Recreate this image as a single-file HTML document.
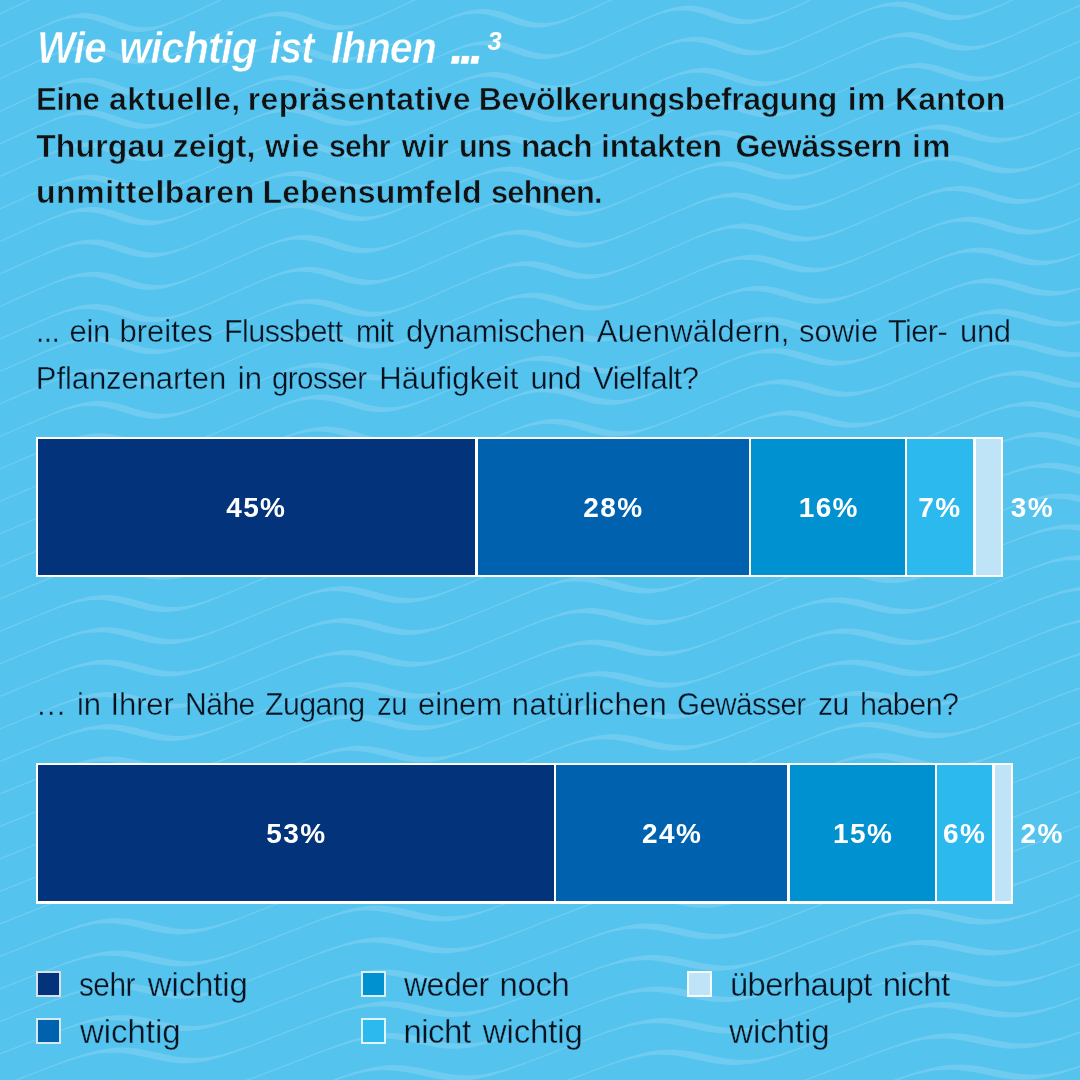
<!DOCTYPE html>
<html lang="de">
<head>
<meta charset="utf-8">
<title>Wie wichtig ist Ihnen ...</title>
<style>
html,body{margin:0;padding:0;}
body{width:1080px;height:1080px;overflow:hidden;background:#54c3ee;position:relative;
  font-family:"Liberation Sans",sans-serif;color:#141414;}
#bg{position:absolute;left:0;top:0;width:1080px;height:1080px;}
.ln{position:absolute;left:0;width:1080px;height:40px;line-height:40px;white-space:nowrap;margin:0;}
.ln span{position:absolute;top:0;transform-origin:0 50%;}
.title{font-size:44px;font-weight:bold;font-style:italic;color:#fff;-webkit-text-stroke:0.6px #54c3ee;}
.title sup{position:absolute;left:487.4px;top:0.3px;font-size:25.5px;line-height:24px;letter-spacing:0;-webkit-text-stroke:0;}
.lead{font-size:32px;font-weight:bold;color:#111;-webkit-text-stroke:0.6px #54c3ee;}
.q{font-size:31px;color:#08121f;-webkit-text-stroke:0.4px #54c3ee;}
.lg{font-size:33px;color:#08121f;-webkit-text-stroke:0.4px #54c3ee;}
.bar{position:absolute;background:#fff;}
.seg{position:absolute;top:2.3px;bottom:2.3px;}
.pc{position:absolute;width:100px;height:30px;line-height:30px;font-size:28px;font-weight:bold;color:#fff;text-align:center;white-space:nowrap;letter-spacing:1.4px;text-indent:1.4px;}
.sw{position:absolute;width:25px;height:26px;box-sizing:border-box;border:2px solid rgba(255,255,255,0.85);background-clip:padding-box;}
</style>
</head>
<body>
<svg id="bg" width="1080" height="1080" viewBox="0 0 1080 1080"><defs><path id="wv" d="M-10,6.0 -5,4.8 0,3.7 5,2.5 10,1.3 15,0.1 20,-1.1 25,-2.3 30,-3.4 35,-4.6 40,-5.8 45,-7.0 50,-8.1 55,-9.3 60,-10.4 65,-11.4 70,-12.3 75,-13.2 80,-13.9 85,-14.4 90,-14.7 95,-14.8 100,-14.6 105,-14.2 110,-13.4 115,-12.2 120,-10.8 125,-9.1 130,-7.2 135,-5.1 140,-2.9 145,-0.7 150,1.5 155,3.6 160,5.5 165,7.2 170,8.6 175,9.8 180,10.6 185,11.1 190,11.4 195,11.3 200,11.0 205,10.5 210,9.9 215,9.0 220,8.1 225,7.1 230,6.0 235,4.8 240,3.7 245,2.5 250,1.3 255,0.1 260,-1.1 265,-2.3 270,-3.4 275,-4.6 280,-5.8 285,-7.0 290,-8.1 295,-9.3 300,-10.4 305,-11.4 310,-12.3 315,-13.2 320,-13.9 325,-14.4 330,-14.7 335,-14.8 340,-14.6 345,-14.2 350,-13.4 355,-12.2 360,-10.8 365,-9.1 370,-7.2 375,-5.1 380,-2.9 385,-0.7 390,1.5 395,3.6 400,5.5 405,7.2 410,8.6 415,9.8 420,10.6 425,11.1 430,11.4 435,11.3 440,11.0 445,10.5 450,9.9 455,9.0 460,8.1 465,7.1 470,6.0 475,4.8 480,3.7 485,2.5 490,1.3 495,0.1 500,-1.1 505,-2.3 510,-3.4 515,-4.6 520,-5.8 525,-7.0 530,-8.1 535,-9.3 540,-10.4 545,-11.4 550,-12.3 555,-13.2 560,-13.9 565,-14.4 570,-14.7 575,-14.8 580,-14.6 585,-14.2 590,-13.4 595,-12.2 600,-10.8 605,-9.1 610,-7.2 615,-5.1 620,-2.9 625,-0.7 630,1.5 635,3.6 640,5.5 645,7.2 650,8.6 655,9.8 660,10.6 665,11.1 670,11.4 675,11.3 680,11.0 685,10.5 690,9.9 695,9.0 700,8.1 705,7.1 710,6.0 715,4.8 720,3.7 725,2.5 730,1.3 735,0.1 740,-1.1 745,-2.3 750,-3.4 755,-4.6 760,-5.8 765,-7.0 770,-8.1 775,-9.3 780,-10.4 785,-11.4 790,-12.3 795,-13.2 800,-13.9 805,-14.4 810,-14.7 815,-14.8 820,-14.6 825,-14.2 830,-13.4 835,-12.2 840,-10.8 845,-9.1 850,-7.2 855,-5.1 860,-2.9 865,-0.7 870,1.5 875,3.6 880,5.5 885,7.2 890,8.6 895,9.8 900,10.6 905,11.1 910,11.4 915,11.3 920,11.0 925,10.5 930,9.9 935,9.0 940,8.1 945,7.1 950,6.0 955,4.8 960,3.7 965,2.5 970,1.3 975,0.1 980,-1.1 985,-2.3 990,-3.4 995,-4.6 1000,-5.8 1005,-7.0 1010,-8.1 1015,-9.3 1020,-10.4 1025,-11.4 1030,-12.3 1035,-13.2 1040,-13.9 1045,-14.4 1050,-14.7 1055,-14.8 1060,-14.6 1065,-14.2 1070,-13.4 1075,-12.2 1080,-10.8 1085,-9.1 1090,-7.2 1095,-5.1 1100,-2.9 1105,-0.7 1110,1.5 1115,3.6 1120,5.5 1125,7.2 1130,8.6 1135,9.8 1140,10.6 1145,11.1 1150,11.4 1155,11.3 1160,11.0 1165,10.5 1170,9.9 1175,9.0 1180,8.1 1185,7.1 1190,6.0 1195,4.8 1200,3.7 1205,2.5 1210,1.3 1215,0.1 1220,-1.1 1225,-2.3 1230,-3.4 1235,-4.6 1240,-5.8 1245,-7.0 1250,-8.1 1255,-9.3 1260,-10.4 1265,-11.4 1270,-12.3 1275,-13.2 1280,-13.9 1285,-14.4 1290,-14.7 1295,-14.8 1300,-14.6 1305,-14.2 1310,-13.4 1315,-12.2 1320,-10.8 1325,-9.1 1330,-7.2 1335,-5.1 1340,-2.9 1345,-0.7 1350,1.5 1355,3.6 1360,5.5 1365,7.2 1370,8.6 1375,9.8 1380,10.6 1385,11.1 1390,11.4 1395,11.3 1400,11.0 1400,13.5 1395,14.1 1390,14.6 1385,14.8 1380,14.8 1375,14.5 1370,13.9 1365,13.0 1360,11.7 1355,10.2 1350,8.4 1345,6.4 1340,4.2 1335,2.0 1330,-0.2 1325,-2.3 1320,-4.4 1315,-6.2 1310,-7.8 1305,-9.1 1300,-10.1 1295,-10.8 1290,-11.3 1285,-11.4 1280,-11.2 1275,-10.9 1270,-10.3 1265,-9.5 1260,-8.7 1255,-7.7 1250,-6.6 1245,-5.5 1240,-4.4 1235,-3.2 1230,-2.0 1225,-0.9 1220,0.3 1215,1.5 1210,2.7 1205,3.9 1200,5.1 1195,6.3 1190,7.4 1185,8.6 1180,9.7 1175,10.8 1170,11.8 1165,12.7 1160,13.5 1155,14.1 1150,14.6 1145,14.8 1140,14.8 1135,14.5 1130,13.9 1125,13.0 1120,11.7 1115,10.2 1110,8.4 1105,6.4 1100,4.2 1095,2.0 1090,-0.2 1085,-2.3 1080,-4.4 1075,-6.2 1070,-7.8 1065,-9.1 1060,-10.1 1055,-10.8 1050,-11.3 1045,-11.4 1040,-11.2 1035,-10.9 1030,-10.3 1025,-9.5 1020,-8.7 1015,-7.7 1010,-6.6 1005,-5.5 1000,-4.4 995,-3.2 990,-2.0 985,-0.9 980,0.3 975,1.5 970,2.7 965,3.9 960,5.1 955,6.3 950,7.4 945,8.6 940,9.7 935,10.8 930,11.8 925,12.7 920,13.5 915,14.1 910,14.6 905,14.8 900,14.8 895,14.5 890,13.9 885,13.0 880,11.7 875,10.2 870,8.4 865,6.4 860,4.2 855,2.0 850,-0.2 845,-2.3 840,-4.4 835,-6.2 830,-7.8 825,-9.1 820,-10.1 815,-10.8 810,-11.3 805,-11.4 800,-11.2 795,-10.9 790,-10.3 785,-9.5 780,-8.7 775,-7.7 770,-6.6 765,-5.5 760,-4.4 755,-3.2 750,-2.0 745,-0.9 740,0.3 735,1.5 730,2.7 725,3.9 720,5.1 715,6.3 710,7.4 705,8.6 700,9.7 695,10.8 690,11.8 685,12.7 680,13.5 675,14.1 670,14.6 665,14.8 660,14.8 655,14.5 650,13.9 645,13.0 640,11.7 635,10.2 630,8.4 625,6.4 620,4.2 615,2.0 610,-0.2 605,-2.3 600,-4.4 595,-6.2 590,-7.8 585,-9.1 580,-10.1 575,-10.8 570,-11.3 565,-11.4 560,-11.2 555,-10.9 550,-10.3 545,-9.5 540,-8.7 535,-7.7 530,-6.6 525,-5.5 520,-4.4 515,-3.2 510,-2.0 505,-0.9 500,0.3 495,1.5 490,2.7 485,3.9 480,5.1 475,6.3 470,7.4 465,8.6 460,9.7 455,10.8 450,11.8 445,12.7 440,13.5 435,14.1 430,14.6 425,14.8 420,14.8 415,14.5 410,13.9 405,13.0 400,11.7 395,10.2 390,8.4 385,6.4 380,4.2 375,2.0 370,-0.2 365,-2.3 360,-4.4 355,-6.2 350,-7.8 345,-9.1 340,-10.1 335,-10.8 330,-11.3 325,-11.4 320,-11.2 315,-10.9 310,-10.3 305,-9.5 300,-8.7 295,-7.7 290,-6.6 285,-5.5 280,-4.4 275,-3.2 270,-2.0 265,-0.9 260,0.3 255,1.5 250,2.7 245,3.9 240,5.1 235,6.3 230,7.4 225,8.6 220,9.7 215,10.8 210,11.8 205,12.7 200,13.5 195,14.1 190,14.6 185,14.8 180,14.8 175,14.5 170,13.9 165,13.0 160,11.7 155,10.2 150,8.4 145,6.4 140,4.2 135,2.0 130,-0.2 125,-2.3 120,-4.4 115,-6.2 110,-7.8 105,-9.1 100,-10.1 95,-10.8 90,-11.3 85,-11.4 80,-11.2 75,-10.9 70,-10.3 65,-9.5 60,-8.7 55,-7.7 50,-6.6 45,-5.5 40,-4.4 35,-3.2 30,-2.0 25,-0.9 20,0.3 15,1.5 10,2.7 5,3.9 0,5.1 -5,6.3 -10,7.4Z"/></defs><g fill="#fff" fill-opacity="0.16"><use href="#wv" transform="matrix(0.7773,-0.1352,0,1,0,-55.5)"/><use href="#wv" transform="matrix(0.7867,-0.1369,0,1,0,-23.0)"/><use href="#wv" transform="matrix(0.7961,-0.1385,0,1,0,9.5)"/><use href="#wv" transform="matrix(0.8055,-0.1402,0,1,0,42.0)"/><use href="#wv" transform="matrix(0.8150,-0.1418,0,1,0,74.5)"/><use href="#wv" transform="matrix(0.8244,-0.1434,0,1,0,107.0)"/><use href="#wv" transform="matrix(0.8338,-0.1451,0,1,0,139.5)"/><use href="#wv" transform="matrix(0.8432,-0.1467,0,1,0,172.0)"/><use href="#wv" transform="matrix(0.8527,-0.1484,0,1,0,204.5)"/><use href="#wv" transform="matrix(0.8621,-0.1500,0,1,0,237.0)"/><use href="#wv" transform="matrix(0.8715,-0.1516,0,1,0,269.5)"/><use href="#wv" transform="matrix(0.8809,-0.1533,0,1,0,302.0)"/><use href="#wv" transform="matrix(0.8904,-0.1549,0,1,0,334.5)"/><use href="#wv" transform="matrix(0.8998,-0.1566,0,1,0,367.0)"/><use href="#wv" transform="matrix(0.9092,-0.1582,0,1,0,399.5)"/><use href="#wv" transform="matrix(0.9186,-0.1598,0,1,0,432.0)"/><use href="#wv" transform="matrix(0.9281,-0.1615,0,1,0,464.5)"/><use href="#wv" transform="matrix(0.9375,-0.1631,0,1,0,497.0)"/><use href="#wv" transform="matrix(0.9469,-0.1648,0,1,0,529.5)"/><use href="#wv" transform="matrix(0.9563,-0.1664,0,1,0,562.0)"/><use href="#wv" transform="matrix(0.9658,-0.1680,0,1,0,594.5)"/><use href="#wv" transform="matrix(0.9752,-0.1697,0,1,0,627.0)"/><use href="#wv" transform="matrix(0.9846,-0.1713,0,1,0,659.5)"/><use href="#wv" transform="matrix(0.9940,-0.1730,0,1,0,692.0)"/><use href="#wv" transform="matrix(1.0035,-0.1746,0,1,0,724.5)"/><use href="#wv" transform="matrix(1.0129,-0.1762,0,1,0,757.0)"/><use href="#wv" transform="matrix(1.0223,-0.1779,0,1,0,789.5)"/><use href="#wv" transform="matrix(1.0317,-0.1795,0,1,0,822.0)"/><use href="#wv" transform="matrix(1.0412,-0.1812,0,1,0,854.5)"/><use href="#wv" transform="matrix(1.0506,-0.1828,0,1,0,887.0)"/><use href="#wv" transform="matrix(1.0600,-0.1844,0,1,0,919.5)"/><use href="#wv" transform="matrix(1.0694,-0.1861,0,1,0,952.0)"/><use href="#wv" transform="matrix(1.0789,-0.1877,0,1,0,984.5)"/><use href="#wv" transform="matrix(1.0883,-0.1894,0,1,0,1017.0)"/><use href="#wv" transform="matrix(1.0977,-0.1910,0,1,0,1049.5)"/><use href="#wv" transform="matrix(1.1071,-0.1926,0,1,0,1082.0)"/><use href="#wv" transform="matrix(1.1166,-0.1943,0,1,0,1114.5)"/><use href="#wv" transform="matrix(1.1260,-0.1959,0,1,0,1147.0)"/><use href="#wv" transform="matrix(1.1354,-0.1976,0,1,0,1179.5)"/><use href="#wv" transform="matrix(1.1448,-0.1992,0,1,0,1212.0)"/><use href="#wv" transform="matrix(1.1543,-0.2008,0,1,0,1244.5)"/><use href="#wv" transform="matrix(1.1637,-0.2025,0,1,0,1277.0)"/><use href="#wv" transform="matrix(1.1731,-0.2041,0,1,0,1309.5)"/></g></svg>
<h1 style="margin:0;font:inherit">
  <div class="ln title" style="top:28.3px"><span style="left:36.8px;letter-spacing:-1.00px;transform:scaleX(0.9177)">Wie</span> <span style="left:118.6px;letter-spacing:-1.00px;transform:scaleX(0.9495)">wichtig</span> <span style="left:270.4px;letter-spacing:-1.00px;transform:scaleX(0.9014)">ist</span> <span style="left:331.0px;letter-spacing:-1.00px;transform:scaleX(0.9348)">Ihnen</span> <span style="left:449.3px;letter-spacing:-6.10px;font-size:57px;top:-4.5px">...</span><sup>3</sup></div>
</h1>
<div class="leadblock">
  <div class="ln lead" style="top:79.1px"><span style="left:36.1px;letter-spacing:-0.80px;transform:scaleX(0.9803)">Eine</span> <span style="left:109.0px;letter-spacing:0.40px">aktuelle,</span> <span style="left:247.8px;letter-spacing:0.30px">repräsentative</span> <span style="left:478.8px;letter-spacing:-0.48px">Bevölkerungsbefragung</span> <span style="left:847.8px;letter-spacing:0.34px">im</span> <span style="left:895.1px;letter-spacing:0.02px">Kanton</span></div>
  <div class="ln lead" style="top:125.5px"><span style="left:36.2px;letter-spacing:0.13px">Thurgau</span> <span style="left:172.7px;letter-spacing:0.18px">zeigt,</span> <span style="left:265.0px;letter-spacing:1.37px">wie</span> <span style="left:328.8px;letter-spacing:-0.80px;transform:scaleX(0.9446)">sehr</span> <span style="left:401.7px;letter-spacing:0.42px">wir</span> <span style="left:459.2px;letter-spacing:-0.80px;transform:scaleX(0.9586)">uns</span> <span style="left:521.1px;letter-spacing:-0.80px;transform:scaleX(0.9912)">nach</span> <span style="left:601.1px;letter-spacing:-0.24px">intakten</span> <span style="left:735.4px;letter-spacing:-0.51px">Gewässern</span> <span style="left:912.1px;letter-spacing:1.04px">im</span></div>
  <div class="ln lead" style="top:172.2px"><span style="left:36.0px;letter-spacing:0.55px">unmittelbaren</span> <span style="left:262.5px;letter-spacing:0.19px">Lebensumfeld</span> <span style="left:490.5px;letter-spacing:-0.80px;transform:scaleX(0.9615)">sehnen.</span></div>
</div>
<div class="question">
  <div class="ln q" style="top:312.3px"><span style="left:35.6px;letter-spacing:-0.60px;transform:scaleX(0.9710)">...</span> <span style="left:69.5px;letter-spacing:-0.27px">ein</span> <span style="left:119.5px;letter-spacing:0.02px">breites</span> <span style="left:224.3px;letter-spacing:-0.60px;transform:scaleX(0.9859)">Flussbett</span> <span style="left:356.3px;letter-spacing:-0.60px;transform:scaleX(0.9429)">mit</span> <span style="left:406.1px;letter-spacing:-0.35px">dynamischen</span> <span style="left:596.7px;letter-spacing:0.28px">Auenwäldern,</span> <span style="left:799.1px;letter-spacing:-0.04px">sowie</span> <span style="left:888.4px;letter-spacing:-0.60px;transform:scaleX(0.9940)">Tier-</span> <span style="left:960.1px;letter-spacing:-0.36px">und</span></div>
  <div class="ln q" style="top:359.0px"><span style="left:35.8px;letter-spacing:-0.08px">Pflanzenarten</span> <span style="left:237.8px;letter-spacing:0.16px">in</span> <span style="left:272.1px;letter-spacing:-0.60px;transform:scaleX(0.9523)">grosser</span> <span style="left:379.2px;letter-spacing:0.16px">Häufigkeit</span> <span style="left:530.5px;letter-spacing:-0.42px">und</span> <span style="left:593.0px;letter-spacing:-0.47px">Vielfalt?</span></div>
</div>
<div class="bar" style="left:36px;top:436.7px;width:967.3px;height:140.4px">
  <div class="seg" style="left:2.4px;width:437.0px;background:#03347b"></div>
  <div class="seg" style="left:441.8px;width:271.2px;background:#0062ae"></div>
  <div class="seg" style="left:715.4px;width:153.4px;background:#0091d1"></div>
  <div class="seg" style="left:871.2px;width:66.1px;background:#2cb9ee"></div>
  <div class="seg" style="left:939.7px;width:25.2px;background:#bfe4f8"></div>
</div>
<div class="pc" style="left:205.6px;top:492.9px">45%</div>
<div class="pc" style="left:562.8px;top:492.9px">28%</div>
<div class="pc" style="left:778.1px;top:492.9px">16%</div>
<div class="pc" style="left:889.3px;top:492.9px">7%</div>
<div class="pc" style="left:981.7px;top:492.9px">3%</div>
<div class="question">
  <div class="ln q" style="top:685.3px"><span style="left:35.7px;letter-spacing:0.00px">…</span> <span style="left:77.1px;letter-spacing:-0.14px">in</span> <span style="left:110.5px;letter-spacing:-0.11px">Ihrer</span> <span style="left:184.9px;letter-spacing:-0.60px;transform:scaleX(0.9727)">Nähe</span> <span style="left:265.1px;letter-spacing:-0.60px;transform:scaleX(0.9799)">Zugang</span> <span style="left:377.1px;letter-spacing:-0.60px;transform:scaleX(0.9497)">zu</span> <span style="left:418.1px;letter-spacing:-0.13px">einem</span> <span style="left:511.8px;letter-spacing:0.34px">natürlichen</span> <span style="left:676.5px;letter-spacing:-0.60px;transform:scaleX(0.9540)">Gewässer</span> <span style="left:818.1px;letter-spacing:-0.60px;transform:scaleX(0.9705)">zu</span> <span style="left:859.6px;letter-spacing:-0.60px;transform:scaleX(0.9863)">haben?</span></div>
</div>
<div class="bar" style="left:36px;top:763px;width:977.2px;height:140.6px">
  <div class="seg" style="left:2.4px;width:515.4px;background:#03347b"></div>
  <div class="seg" style="left:520.2px;width:230.9px;background:#0062ae"></div>
  <div class="seg" style="left:753.5px;width:145.1px;background:#0091d1"></div>
  <div class="seg" style="left:901.0px;width:55.3px;background:#2cb9ee"></div>
  <div class="seg" style="left:958.7px;width:16.1px;background:#bfe4f8"></div>
</div>
<div class="pc" style="left:245.8px;top:819.4px">53%</div>
<div class="pc" style="left:621.5px;top:819.4px">24%</div>
<div class="pc" style="left:812.4px;top:819.4px">15%</div>
<div class="pc" style="left:913.9px;top:819.4px">6%</div>
<div class="pc" style="left:991.5px;top:819.4px">2%</div>
<div class="sw" style="left:36px;top:971px;background:#03347b"></div>
<div class="sw" style="left:36px;top:1018px;background:#0062ae"></div>
<div class="sw" style="left:361px;top:971px;background:#0091d1"></div>
<div class="sw" style="left:361px;top:1018px;background:#2cb9ee"></div>
<div class="sw" style="left:687px;top:971px;background:#bfe4f8"></div>
<div class="legend">
  <div class="ln lg" style="top:965.3px"><span style="left:79.1px;letter-spacing:-0.60px;transform:scaleX(0.9031)">sehr</span> <span style="left:147.7px;letter-spacing:-0.11px">wichtig</span></div>
  <div class="ln lg" style="top:1011.9px"><span style="left:80.0px;letter-spacing:-0.06px">wichtig</span></div>
  <div class="ln lg" style="top:965.3px"><span style="left:404.3px;letter-spacing:-0.60px;transform:scaleX(0.9732)">weder</span> <span style="left:499.4px;letter-spacing:-0.33px">noch</span></div>
  <div class="ln lg" style="top:1011.9px"><span style="left:403.4px;letter-spacing:-0.50px">nicht</span> <span style="left:482.7px;letter-spacing:-0.11px">wichtig</span></div>
  <div class="ln lg" style="top:965.3px"><span style="left:730.0px;letter-spacing:-0.60px;transform:scaleX(0.9902)">überhaupt</span> <span style="left:882.7px;letter-spacing:-0.58px">nicht</span></div>
  <div class="ln lg" style="top:1011.9px"><span style="left:729.3px;letter-spacing:-0.11px">wichtig</span></div>
</div>
</body>
</html>
